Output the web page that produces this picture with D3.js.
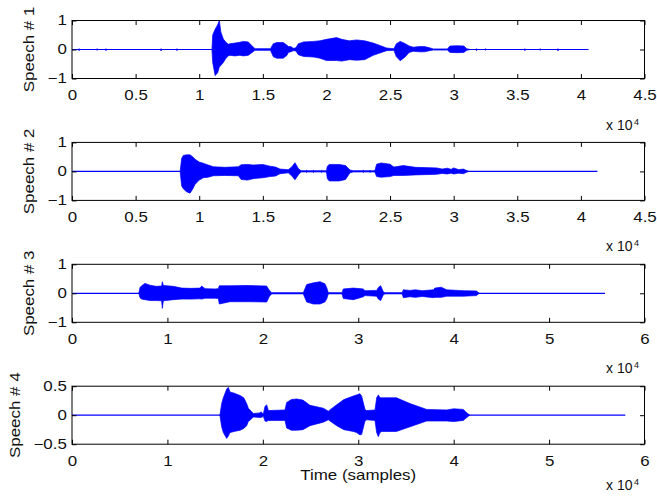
<!DOCTYPE html>
<html>
<head>
<meta charset="utf-8">
<script src="https://cdn.jsdelivr.net/npm/d3@7"></script>
<style>
  body { margin: 0; background: #fff; }
  svg { display: block; background: #fff; }
</style>
</head>
<body>
<svg id="chart" width="657" height="496"></svg>
<script>
// ---------------- DATA ----------------
const speechNames = ["Speech # 1", "Speech # 2", "Speech # 3", "Speech # 4"];
const speechLengths = [40600, 41300, 55860, 57990];

// envelope points: [sample, upper amplitude, lower amplitude]
const speech1 = [
  [500,0,0],[560,0.03,-0.04],[620,0,0],
  [1910,0,0],[1970,0.03,-0.03],[2030,0,0],
  [2610,0,0],[2670,0.03,-0.04],[2730,0,0],
  [6940,0,0],[7000,0.03,-0.05],[7060,0,0],
  [8190,0,0],[8250,0.03,-0.04],[8310,0,0],
  [11000,0,0],[11060,0.5,-0.45],[11250,0.7,-0.9],[11450,0.85,-0.8],[11580,1.0,-0.6],
  [11700,0.6,-0.55],[11895,0.36,-0.45],[12100,0.25,-0.3],[12288,0.18,-0.22],[12419,0.2,-0.2],
  [12800,0.22,-0.22],[13200,0.25,-0.2],[13466,0.28,-0.22],[13860,0.26,-0.2],[14100,0.15,-0.12],
  [14384,0.03,-0.03],[15600,0.03,-0.03],[15824,0.2,-0.25],[16100,0.24,-0.3],[16600,0.24,-0.3],
  [16900,0.15,-0.2],[17003,0.1,-0.1],[17200,0.1,-0.08],[17396,0.04,-0.04],[17600,0.06,-0.05],
  [17789,0.2,-0.18],[18200,0.26,-0.24],[19000,0.28,-0.26],[19493,0.3,-0.3],[20000,0.35,-0.38],
  [20803,0.41,-0.38],[21200,0.35,-0.4],[21800,0.3,-0.35],[22375,0.33,-0.37],[23000,0.3,-0.35],
  [23685,0.22,-0.2],[24200,0.14,-0.12],[24733,0.05,-0.04],[25300,0.03,-0.03],[25500,0.2,-0.25],
  [25800,0.28,-0.39],[26200,0.2,-0.25],[26500,0.12,-0.1],[26829,0.08,-0.06],[27300,0.1,-0.08],
  [27700,0.1,-0.08],[28100,0.06,-0.04],[28401,0.02,-0.02],[29500,0.02,-0.02],[29711,0.12,-0.1],
  [30300,0.13,-0.11],[30800,0.12,-0.1],[31021,0.03,-0.03],[31300,0,0],
  [31740,0,0],[31800,0.03,-0.04],[31860,0,0],
  [32440,0,0],[32500,0.03,-0.03],[32560,0,0],
  [35540,0,0],[35600,0.03,-0.04],[35660,0,0],
  [36740,0,0],[36800,0.03,-0.03],[36860,0,0],
  [38140,0,0],[38200,0.03,-0.05],[38260,0,0]
];

const speech2 = [
  [8500,0,0],[8620,0.45,-0.5],[8751,0.55,-0.6],[9000,0.57,-0.7],[9275,0.57,-0.75],
  [9500,0.5,-0.6],[9668,0.42,-0.45],[10000,0.32,-0.3],[10323,0.28,-0.22],[10700,0.22,-0.2],
  [11109,0.16,-0.15],[12000,0.14,-0.14],[13073,0.16,-0.15],[13300,0.23,-0.28],[13800,0.24,-0.3],
  [14252,0.22,-0.25],[15000,0.24,-0.22],[15562,0.18,-0.18],[16000,0.15,-0.16],[16348,0.08,-0.08],
  [17000,0.06,-0.05],[17266,0.15,-0.15],[17528,0.3,-0.29],[17790,0.1,-0.12],[18000,0.02,-0.02],
  [18380,0.02,-0.02],[18445,0.04,-0.04],[18510,0.02,-0.02],
  [18900,0.02,-0.02],[18969,0.04,-0.04],[19030,0.02,-0.02],
  [19560,0.02,-0.02],[19624,0.04,-0.04],[19690,0.02,-0.02],
  [20000,0.02,-0.02],[20070,0.18,-0.25],[20227,0.24,-0.33],[21000,0.24,-0.33],[21500,0.2,-0.28],
  [21851,0.05,-0.05],[22100,0.02,-0.02],
  [22830,0.02,-0.02],[22899,0.04,-0.04],[22960,0.02,-0.02],
  [23360,0.02,-0.02],[23423,0.04,-0.04],[23490,0.02,-0.02],
  [23800,0.02,-0.02],[23947,0.25,-0.18],[24300,0.29,-0.2],[24995,0.25,-0.18],[25300,0.15,-0.14],
  [26043,0.2,-0.14],[27000,0.14,-0.12],[28663,0.12,-0.1],[29100,0.08,-0.07],[29500,0.11,-0.09],
  [29800,0.07,-0.06],[30000,0.12,-0.09],[30400,0.06,-0.06],[30758,0.08,-0.08],[31020,0.03,-0.03],
  [31200,0,0]
];

const speech3 = [
  [7000,0,0],[7126,0.2,-0.15],[7301,0.26,-0.2],[7650,0.34,-0.22],[8174,0.28,-0.25],
  [8800,0.24,-0.25],[9397,0.25,-0.26],[9467,0.4,-0.52],[9572,0.27,-0.26],[10620,0.24,-0.22],
  [11500,0.18,-0.2],[12500,0.17,-0.2],[13414,0.18,-0.19],[13589,0.25,-0.2],[13938,0.16,-0.17],
  [15000,0.15,-0.17],[15336,0.16,-0.18],[15440,0.26,-0.37],[16558,0.26,-0.29],[18500,0.27,-0.29],
  [20401,0.25,-0.3],[20700,0.1,-0.1],[20925,0.02,-0.02],[24244,0.02,-0.02],[24593,0.3,-0.3],
  [25300,0.36,-0.37],[25990,0.4,-0.37],[26500,0.33,-0.3],[26689,0.2,-0.2],[26864,0.02,-0.02],
  [28300,0.02,-0.02],[28436,0.15,-0.18],[29500,0.18,-0.22],[30532,0.15,-0.12],[30700,0.09,-0.08],
  [31929,0.1,-0.1],[32104,0.2,-0.2],[32349,0.26,-0.25],[32628,0.05,-0.05],[32800,0.02,-0.02],
  [34600,0.02,-0.02],[34724,0.12,-0.15],[35400,0.1,-0.12],[36000,0.12,-0.14],[36700,0.09,-0.11],
  [37868,0.12,-0.15],[38042,0.18,-0.14],[38700,0.21,-0.14],[39265,0.12,-0.1],[41000,0.09,-0.1],
  [42409,0.08,-0.08],[42584,0.02,-0.02],[42700,0,0]
];

const speech4 = [
  [15500,0,0],[15685,0.2,-0.2],[15860,0.3,-0.3],[16209,0.45,-0.4],[16384,0.48,-0.36],
  [16558,0.4,-0.3],[17000,0.38,-0.28],[17606,0.34,-0.26],[18000,0.3,-0.23],[18305,0.2,-0.18],
  [18480,0.12,-0.11],[18829,0.06,-0.06],[19004,0.03,-0.03],[19702,0.04,-0.04],[19800,0.06,-0.04],
  [20052,0.02,-0.02],[20226,0.15,-0.1],[20400,0.18,-0.11],[20576,0.08,-0.09],[22322,0.09,-0.09],
  [22497,0.22,-0.22],[23000,0.27,-0.26],[23545,0.28,-0.26],[24200,0.26,-0.25],[24942,0.17,-0.18],
  [26340,0.12,-0.12],[26864,0.07,-0.08],[27737,0.18,-0.18],[28500,0.27,-0.25],[29484,0.33,-0.28],
  [29833,0.35,-0.3],[30182,0.37,-0.34],[30357,0.33,-0.33],[30706,0.1,-0.1],[30881,0.08,-0.08],
  [31754,0.09,-0.09],[31929,0.3,-0.3],[32104,0.35,-0.37],[32278,0.3,-0.3],[32453,0.3,-0.28],
  [34000,0.3,-0.28],[35422,0.2,-0.2],[37169,0.1,-0.1],[39265,0.09,-0.1],[40000,0.11,-0.11],
  [41011,0.1,-0.09],[41300,0.05,-0.05],[41535,0.02,-0.02],[41700,0,0]
];

const xTickValues45 = [0, 5000, 10000, 15000, 20000, 25000, 30000, 35000, 40000, 45000];
const xTickLabels45 = ["0", "0.5", "1", "1.5", "2", "2.5", "3", "3.5", "4", "4.5"];
const xTickValues60 = [0, 10000, 20000, 30000, 40000, 50000, 60000];
const xTickLabels60 = ["0", "1", "2", "3", "4", "5", "6"];
const yTickValuesUnit = [-1, 0, 1];
const yTickLabelsUnit = ["\u22121", "0", "1"];
const yTickValuesHalf = [-0.5, 0, 0.5];
const yTickLabelsHalf = ["\u22120.5", "0", "0.5"];
const xLabelText = "Time (samples)";
const exponentBase = "x 10";
const exponentPower = "4";

// ---------------- LAYOUT / STYLE ----------------
const svg = d3.select("#chart");
const left = 72, right = 644.5, panelH = 58, firstTop = 20.5, panelStep = 121.9;
const fontFamily = '"Liberation Sans", Arial, Helvetica, sans-serif';
const stretch = 1.21;
const blue = "#0000ff";
const ink = "#111";
const tickLen = 4.5;

const panels = [
  { name: speechNames[0], data: speech1, length: speechLengths[0], xMax: 45000, xt: xTickValues45, xl: xTickLabels45, yt: yTickValuesUnit, yl: yTickLabelsUnit, yDom: [-1, 1] },
  { name: speechNames[1], data: speech2, length: speechLengths[1], xMax: 45000, xt: xTickValues45, xl: xTickLabels45, yt: yTickValuesUnit, yl: yTickLabelsUnit, yDom: [-1, 1] },
  { name: speechNames[2], data: speech3, length: speechLengths[2], xMax: 60000, xt: xTickValues60, xl: xTickLabels60, yt: yTickValuesUnit, yl: yTickLabelsUnit, yDom: [-1, 1] },
  { name: speechNames[3], data: speech4, length: speechLengths[3], xMax: 60000, xt: xTickValues60, xl: xTickLabels60, yt: yTickValuesHalf, yl: yTickLabelsHalf, yDom: [-0.5, 0.5] }
];

function styleAxis(sel) {
  sel.attr("font-size", 14).attr("font-family", fontFamily);
  sel.selectAll(".tick line").attr("stroke", "#000").attr("stroke-width", 1);
  sel.selectAll("text").attr("fill", ink);
}

panels.forEach((p, i) => {
  const top = firstTop + i * panelStep;
  const bottom = top + panelH;
  const x = d3.scaleLinear().domain([0, p.xMax]).range([left, right]);
  const y = d3.scaleLinear().domain(p.yDom).range([bottom, top]);
  const g = svg.append("g");

  // zero line over the whole recording
  g.append("path")
    .datum([[0, 0], [p.length, 0]])
    .attr("d", d3.line().x(d => x(d[0])).y(d => y(d[1])))
    .attr("fill", "none").attr("stroke", blue).attr("stroke-width", 1.2);

  // waveform envelope
  g.append("path")
    .datum(p.data)
    .attr("d", d3.area().x(d => x(d[0])).y0(d => y(d[2])).y1(d => y(d[1])))
    .attr("fill", blue).attr("stroke", blue).attr("stroke-width", 0.7).attr("stroke-linejoin", "round");

  // axes (inward ticks, MATLAB style box)
  const xb = g.append("g").attr("transform", `translate(0,${bottom})`)
    .call(d3.axisBottom(x).tickValues(p.xt).tickFormat((d, j) => p.xl[j])
      .tickSizeInner(-tickLen).tickSizeOuter(0).tickPadding(12));
  xb.select(".domain").remove();
  styleAxis(xb);
  xb.selectAll("text").attr("transform", `scale(${stretch},1)`);

  const xt = g.append("g").attr("transform", `translate(0,${top})`)
    .call(d3.axisTop(x).tickValues(p.xt).tickFormat(() => "")
      .tickSizeInner(-tickLen).tickSizeOuter(0));
  xt.select(".domain").remove();
  styleAxis(xt);

  const yl = g.append("g").attr("transform", `translate(${left},0)`)
    .call(d3.axisLeft(y).tickValues(p.yt).tickFormat((d, j) => p.yl[j])
      .tickSizeInner(-tickLen).tickSizeOuter(0).tickPadding(4.3));
  yl.select(".domain").remove();
  styleAxis(yl);
  yl.selectAll("text").attr("transform", `scale(${stretch},1)`);

  const yr = g.append("g").attr("transform", `translate(${right},0)`)
    .call(d3.axisRight(y).tickValues(p.yt).tickFormat(() => "")
      .tickSizeInner(-tickLen).tickSizeOuter(0));
  yr.select(".domain").remove();
  styleAxis(yr);

  // frame
  g.append("rect")
    .attr("x", left).attr("y", top).attr("width", right - left).attr("height", panelH)
    .attr("fill", "none").attr("stroke", "#000").attr("stroke-width", 1);

  // y label, placed left of the widest tick label
  let minLeft = left;
  yl.selectAll("text").each(function () {
    const r = this.getBoundingClientRect();
    if (r.width > 0) minLeft = Math.min(minLeft, r.left);
  });
  g.append("text")
    .attr("transform", `translate(${minLeft - 13.5},${(top + bottom) / 2}) rotate(-90) scale(${stretch},1)`)
    .attr("text-anchor", "middle")
    .attr("font-family", fontFamily).attr("font-size", 14).attr("fill", ink)
    .text(p.name);

  // x 10^4 multiplier
  const exY = Math.min(bottom + 51, 489.5);
  const ex = g.append("text")
    .attr("x", 606).attr("y", exY)
    .attr("font-family", fontFamily).attr("font-size", 14).attr("fill", ink)
    .text(exponentBase);
  ex.append("tspan").attr("dx", 1.5).attr("dy", -5).attr("font-size", 9).text(exponentPower);

  if (i === panels.length - 1) {
    g.append("text")
      .attr("transform", `translate(${(left + right) / 2},480) scale(${stretch},1)`)
      .attr("text-anchor", "middle")
      .attr("font-family", fontFamily).attr("font-size", 14).attr("fill", ink)
      .text(xLabelText);
  }
});
</script>
</body>
</html>
